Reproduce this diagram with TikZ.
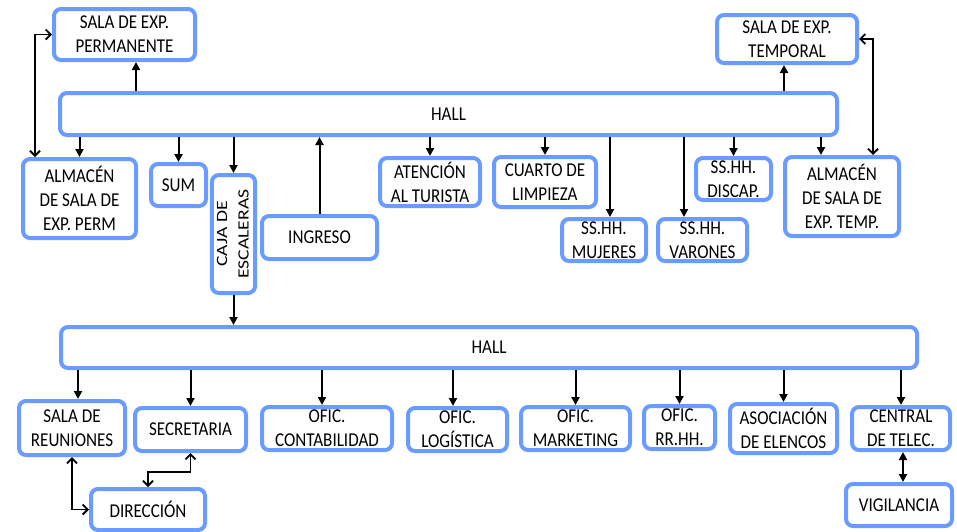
\documentclass[tikz,border=0pt]{standalone}
\usepackage{fontspec}
\setmainfont{Carlito}[FakeStretch=0.87]
\newfontfamily\plainfont{Carlito}
\usetikzlibrary{arrows.meta}
\definecolor{RoomBlue}{HTML}{6A9BFF}
\newcommand\roomfont{\fontsize{19.6}{24}\selectfont}

\begin{document}
\begin{tikzpicture}[
    x=1pt,y=-1pt,
    room/.style={draw=RoomBlue, line width=4pt, rounded corners=7pt,
      fill=white, inner sep=0pt, align=center, font=\roomfont},
    link/.style={-{Triangle[length=8pt,width=8pt]}, line width=2pt, black},
    twoway/.style={{Triangle[length=8pt,width=8pt]}-{Triangle[length=8pt,width=8pt]},
      line width=2pt, black},
    elbow/.style={{Straight Barb[length=5pt,width=10pt]}-{Straight Barb[length=5pt,width=10pt]},
      line width=1.8pt, black}
  ]
    \useasboundingbox (0,0) rectangle (957,531);

    % upper floor
    \node[room, minimum width=777, minimum height=42] (hall1) at (448.5,114) {HALL};

    \node[room, minimum width=141, minimum height=51] (salaperm) at (124.5,34.5)
      {SALA DE EXP.\\PERMANENTE};
    \node[room, minimum width=140, minimum height=48] (salatemp) at (787,39)
      {SALA DE EXP.\\TEMPORAL};

    \node[room, minimum width=113, minimum height=79] (almperm) at (79.5,198.5)
      {ALMACÉN\\DE SALA DE\\EXP. PERM};
    \node[room, minimum width=55, minimum height=42] (sum) at (178.5,185) {SUM};
    \node[room, minimum width=37, minimum height=118] (caja) at (233.5,234)
      {\rotatebox{90}{\scalebox{1}[0.8]{\plainfont\fontsize{19.6}{27}\selectfont
        \begin{tabular}{@{}c@{}}CAJA DE\\ESCALERAS\end{tabular}}}};
    \node[room, minimum width=115, minimum height=43] (ingreso) at (319.5,237.5) {INGRESO};
    \node[room, minimum width=100, minimum height=48] (atencion) at (430,182)
      {ATENCIÓN\\AL TURISTA};
    \node[room, minimum width=102, minimum height=50] (cuarto) at (545,182)
      {CUARTO DE\\LIMPIEZA};
    \node[room, minimum width=84, minimum height=42] (mujeres) at (604,240)
      {SS.HH.\\MUJERES};
    \node[room, minimum width=89, minimum height=42] (varones) at (702.5,240)
      {SS.HH.\\VARONES};
    \node[room, minimum width=75, minimum height=42] (discap) at (733.5,179)
      {SS.HH.\\DISCAP.};
    \node[room, minimum width=114, minimum height=79] (almtemp) at (842,196.5)
      {ALMACÉN\\DE SALA DE\\EXP. TEMP.};

    \draw[link] ([xshift=11.5pt]salaperm.south |- hall1.north) -- ([xshift=11.5pt]salaperm.south);
    \draw[link] ([xshift=-3pt]salatemp.south |- hall1.north) -- ([xshift=-3pt]salatemp.south);
    \draw[link] (almperm.north |- hall1.south) -- (almperm.north);
    \draw[link] (sum.north |- hall1.south) -- (sum.north);
    \draw[link] (caja.north |- hall1.south) -- (caja.north);
    \draw[link] (ingreso.north) -- (ingreso.north |- hall1.south);
    \draw[link] (atencion.north |- hall1.south) -- (atencion.north);
    \draw[link] (cuarto.north |- hall1.south) -- (cuarto.north);
    \draw[link] ([xshift=6pt]mujeres.north |- hall1.south) -- ([xshift=6pt]mujeres.north);
    \draw[link] ([xshift=-18.5pt]varones.north |- hall1.south) -- ([xshift=-18.5pt]varones.north);
    \draw[link] (discap.north |- hall1.south) -- (discap.north);
    \draw[link] ([xshift=-21pt]almtemp.north |- hall1.south) -- ([xshift=-21pt]almtemp.north);

    \draw[elbow] ([xshift=-44.5pt]almperm.north) |- (salaperm.west);
    \draw[elbow] ([xshift=31pt]almtemp.north) |- (salatemp.east);

    % lower floor
    \node[room, minimum width=856, minimum height=41] (hall2) at (489,347.5) {HALL};

    \node[room, minimum width=106, minimum height=54] (reuniones) at (72,428)
      {SALA DE\\REUNIONES};
    \node[room, minimum width=111, minimum height=43] (secretaria) at (190.5,429.5) {SECRETARIA};
    \node[room, minimum width=130, minimum height=43] (contab) at (327,428.5)
      {OFIC.\\CONTABILIDAD};
    \node[room, minimum width=99, minimum height=43] (logistica) at (457.5,429.5)
      {OFIC.\\LOGÍSTICA};
    \node[room, minimum width=109, minimum height=43] (marketing) at (575.5,428.5)
      {OFIC.\\MARKETING};
    \node[room, minimum width=71, minimum height=43] (rrhh) at (679.5,427.5)
      {OFIC.\\RR.HH.};
    \node[room, minimum width=107, minimum height=49] (elencos) at (783.5,428.5)
      {ASOCIACIÓN\\DE ELENCOS};
    \node[room, minimum width=98, minimum height=43] (central) at (901,428.5)
      {CENTRAL\\DE TELEC.};
    \node[room, minimum width=106, minimum height=42] (vigilancia) at (899,505) {VIGILANCIA};
    \node[room, minimum width=114, minimum height=41] (direccion) at (148,509.5) {DIRECCIÓN};

    \draw[link] (caja.south) -- (caja.south |- hall2.north);
    \draw[link] ([xshift=6pt]reuniones.north |- hall2.south) -- ([xshift=6pt]reuniones.north);
    \draw[link] (secretaria.north |- hall2.south) -- (secretaria.north);
    \draw[link] ([xshift=-5pt]contab.north |- hall2.south) -- ([xshift=-5pt]contab.north);
    \draw[link] ([xshift=-4.5pt]logistica.north |- hall2.south) -- ([xshift=-4.5pt]logistica.north);
    \draw[link] (marketing.north |- hall2.south) -- (marketing.north);
    \draw[link] (rrhh.north |- hall2.south) -- (rrhh.north);
    \draw[link] (elencos.north |- hall2.south) -- (elencos.north);
    \draw[link] (central.north |- hall2.south) -- (central.north);

    \draw[twoway] ([xshift=2pt]central.south) -- ([xshift=2pt]central.south |- vigilancia.north);
    \draw[elbow] (reuniones.south) |- (direccion.west);
    \draw[elbow] (secretaria.south) -- ++(0,19) -| (direccion.north);
  \end{tikzpicture}
\end{document}
